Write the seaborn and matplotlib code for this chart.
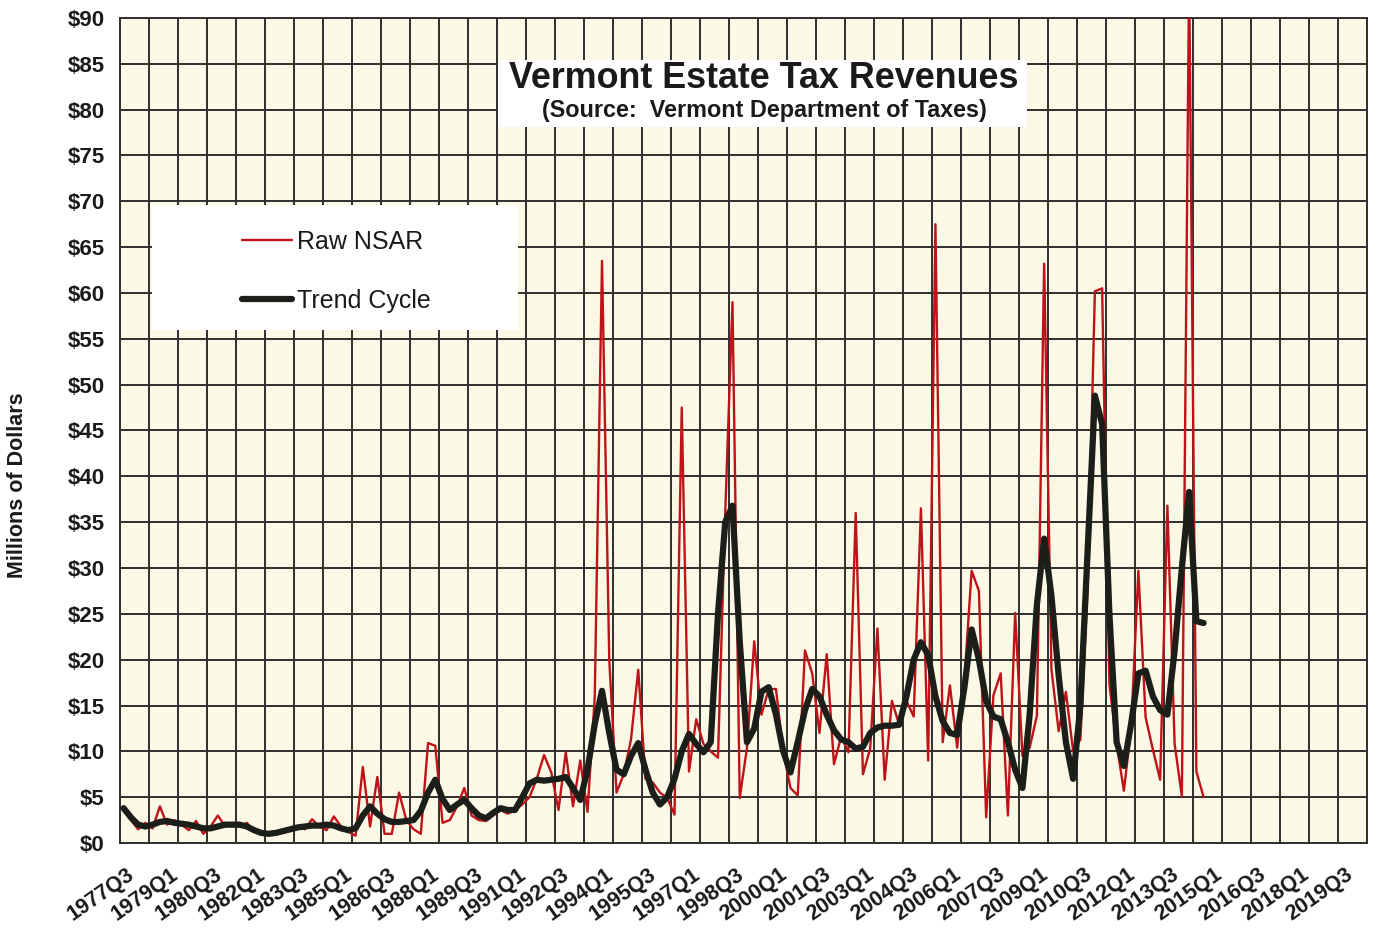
import numpy as np
import pandas as pd
import matplotlib
matplotlib.use("Agg")
import matplotlib.pyplot as plt
import matplotlib.transforms as mtransforms
from matplotlib.patches import Rectangle
import seaborn as sns

# ---------------- data ----------------
quarters = [str(p) for p in pd.period_range("1977Q3", periods=172, freq="Q")]

raw_nsar = [
    3.8, 2.5, 1.5, 2.2, 1.6, 4.0, 2.0, 2.5, 2.0, 1.4,
    2.4, 1.0, 1.8, 3.0, 1.8, 2.2, 1.8, 2.2, 1.2, 1.0,
    0.9, 1.2, 1.4, 1.6, 1.8, 1.5, 2.6, 1.8, 1.4, 2.9,
    1.8, 1.2, 0.8, 8.3, 1.8, 7.2, 1.0, 1.0, 5.5, 2.5,
    1.5, 1.0, 10.9, 10.6, 2.2, 2.5, 4.0, 6.0, 3.0, 2.5,
    2.4, 3.0, 3.6, 3.2, 3.6, 4.2, 5.0, 7.0, 9.6, 7.7,
    3.6, 9.9, 4.0, 9.0, 3.4, 16.0, 63.5, 20.0, 5.5, 7.5,
    11.3, 18.9, 7.0, 6.6, 5.5, 4.9, 3.1, 47.5, 7.8, 13.5,
    10.8, 10.0, 9.3, 36.0, 59.0, 4.9, 10.4, 22.0, 14.0, 16.8,
    16.8, 10.0, 6.0, 5.2, 21.0, 18.5, 12.0, 20.6, 8.6, 11.6,
    9.9, 36.0, 7.5, 10.3, 23.4, 6.9, 15.5, 12.9, 15.5, 13.8,
    36.5, 9.0, 67.5, 11.0, 17.2, 10.4, 17.9, 29.7, 27.5, 2.8,
    16.1, 18.5, 3.0, 25.1, 9.5, 10.4, 13.9, 63.2, 19.0, 12.2,
    16.5, 10.0, 11.3, 27.9, 60.2, 60.5, 17.3, 10.8, 5.7, 12.5,
    29.7, 13.7, 10.2, 6.9, 36.8, 10.8, 5.1, 95.0, 7.8, 5.0,
]

trend_cycle = [
    3.8, 2.8, 2.0, 1.8, 2.0, 2.3, 2.4, 2.2, 2.1, 2.0,
    1.8, 1.6, 1.6, 1.8, 2.0, 2.0, 2.0, 1.8, 1.4, 1.1,
    1.0, 1.1, 1.3, 1.5, 1.7, 1.8, 1.9, 1.9, 2.0, 1.9,
    1.6, 1.4, 1.6, 3.0, 4.0, 3.2, 2.6, 2.3, 2.3, 2.4,
    2.5, 3.5, 5.5, 6.9, 4.8, 3.6, 4.2, 4.7, 3.8, 3.0,
    2.7, 3.3, 3.8, 3.6, 3.6, 5.0, 6.5, 6.9, 6.8, 6.9,
    7.0, 7.2, 6.0, 4.7, 8.0, 13.0, 16.6, 12.0, 8.0, 7.5,
    9.5, 10.9, 8.0, 5.5, 4.2, 5.0, 7.0, 10.0, 11.9, 10.8,
    9.9, 11.0, 25.0, 35.0, 36.8, 22.0, 11.0, 12.5, 16.5, 17.0,
    14.0, 10.0, 7.7, 11.0, 14.5, 16.8, 16.0, 14.0, 12.3, 11.3,
    11.0, 10.3, 10.5, 12.0, 12.6, 12.8, 12.8, 12.9, 16.0, 20.0,
    21.9, 20.5, 16.0, 13.3, 12.0, 11.8, 17.0, 23.3, 20.0, 15.5,
    13.8, 13.5, 11.0, 8.0, 6.0, 14.0, 26.0, 33.2, 27.0, 18.3,
    11.0, 7.0, 15.0, 32.0, 48.8, 45.7, 25.0, 11.0, 8.4, 13.0,
    18.5, 18.8, 16.0, 14.5, 14.0, 21.0, 30.0, 38.3, 24.2, 24.0,
]

tick_labels = [
    "1977Q3", "1979Q1", "1980Q3", "1982Q1", "1983Q3", "1985Q1", "1986Q3",
    "1988Q1", "1989Q3", "1991Q1", "1992Q3", "1994Q1", "1995Q3", "1997Q1",
    "1998Q3", "2000Q1", "2001Q3", "2003Q1", "2004Q3", "2006Q1", "2007Q3",
    "2009Q1", "2010Q3", "2012Q1", "2013Q3", "2015Q1", "2016Q3", "2018Q1",
    "2019Q3",
]
y_ticks = list(range(0, 95, 5))

series_names = ["Raw NSAR", "Trend Cycle"]
title_text = "Vermont Estate Tax Revenues"
subtitle_text = "(Source:  Vermont Department of Taxes)"
y_label = "Millions of Dollars"

# ---------------- style ----------------
sns.set_style("white")
plt.rcParams["font.family"] = ["Liberation Sans", "DejaVu Sans"]

RED = "#bf1219"
DARK = "#1b1e19"
GRID = "#2e2e2e"
BG = "#fbf8e5"
TXT = "#1a1a1a"

n = len(raw_nsar)
df = pd.DataFrame({
    "pos": np.arange(n),
    "quarter": quarters[:n],
    "raw": raw_nsar,
    "trend": trend_cycle,
})

fig = plt.figure(figsize=(13.81, 9.31), dpi=100)
fig.patch.set_facecolor("white")
ax = fig.add_axes([120 / 1381, 88 / 931, 1246.7 / 1381, 825 / 931])
ax.set_facecolor(BG)

sns.lineplot(data=df, x="pos", y="raw", color=RED, lw=1.7, ax=ax,
             label=series_names[0], zorder=4)
sns.lineplot(data=df, x="pos", y="trend", color=DARK, lw=4.5, ax=ax,
             label=series_names[1], zorder=5, solid_joinstyle="round",
             solid_capstyle="round")

ax.set_xlim(-0.5, len(quarters) - 0.5)
ax.set_ylim(0, 90)

# gridlines: one per year (4 quarters) and every $5
ax.set_xticks(np.arange(-0.5, len(quarters), 4))
ax.set_xticklabels([])
ax.tick_params(axis="x", which="major", length=5, width=1.2, color=GRID)
label_pos = [quarters.index(t) for t in tick_labels]
ax.set_xticks(label_pos, minor=True)
ax.set_xticklabels(tick_labels, minor=True)
ax.tick_params(axis="x", which="minor", length=0, pad=15)
offset = mtransforms.ScaledTranslation(3 / 100, 0, fig.dpi_scale_trans)
for lab in ax.get_xticklabels(minor=True):
    lab.set_rotation(35)
    lab.set_ha("right")
    lab.set_va("top")
    lab.set_rotation_mode("anchor")
    lab.set_fontsize(15.5)
    lab.set_fontweight("bold")
    lab.set_color(TXT)
    lab.set_transform(lab.get_transform() + offset)

ax.set_yticks(y_ticks)
ax.set_yticklabels([r"\$" + str(v) for v in y_ticks], fontsize=16,
                   fontweight="bold", color=TXT)
ax.tick_params(axis="y", length=4, width=1.2, color=GRID, pad=7)

ax.grid(which="major", axis="both", color=GRID, lw=1.4)
ax.set_axisbelow(True)
for sp in ax.spines.values():
    sp.set_color(GRID)
    sp.set_linewidth(1.4)

ax.set_xlabel("")
ax.set_ylabel("")
fig.text(18 / 1381, 1 - 485 / 931, y_label, rotation=90, ha="center",
         va="center", fontsize=15.5, fontweight="bold", color=TXT)

# title box
def px_to_axes(x, y):
    return (x - 120) / 1246.7, (843 - y) / 825

x0, y0 = px_to_axes(498, 127)
x1, y1 = px_to_axes(1027, 60)
ax.add_patch(Rectangle((x0, y0), x1 - x0, y1 - y0, transform=ax.transAxes,
                       facecolor="white", edgecolor="none", zorder=2))
tx, ty = px_to_axes(764, 79)
ax.text(tx, ty, title_text, transform=ax.transAxes, ha="center", va="center",
        fontsize=25.8, fontweight="bold", color=TXT, zorder=6)
sx, sy = px_to_axes(764, 111)
ax.text(sx, sy, subtitle_text, transform=ax.transAxes, ha="center",
        va="center", fontsize=16.8, fontweight="bold", color=TXT, zorder=6)

# legend box
lx0, ly0 = px_to_axes(152, 330)
lx1, ly1 = px_to_axes(518, 205)
ax.add_patch(Rectangle((lx0, ly0), lx1 - lx0, ly1 - ly0,
                       transform=ax.transAxes, facecolor="white",
                       edgecolor="none", zorder=2))
ax_l, ay_l = px_to_axes(242, 230)
leg = ax.legend(loc="upper left", bbox_to_anchor=(ax_l, ay_l), frameon=False,
                fontsize=18, handlelength=2.0, handletextpad=0.2,
                labelspacing=1.4, borderaxespad=0, borderpad=0)
leg.set_zorder(7)
for t in leg.get_texts():
    t.set_color(TXT)

fig.savefig("out.png", dpi=100, facecolor="white")
